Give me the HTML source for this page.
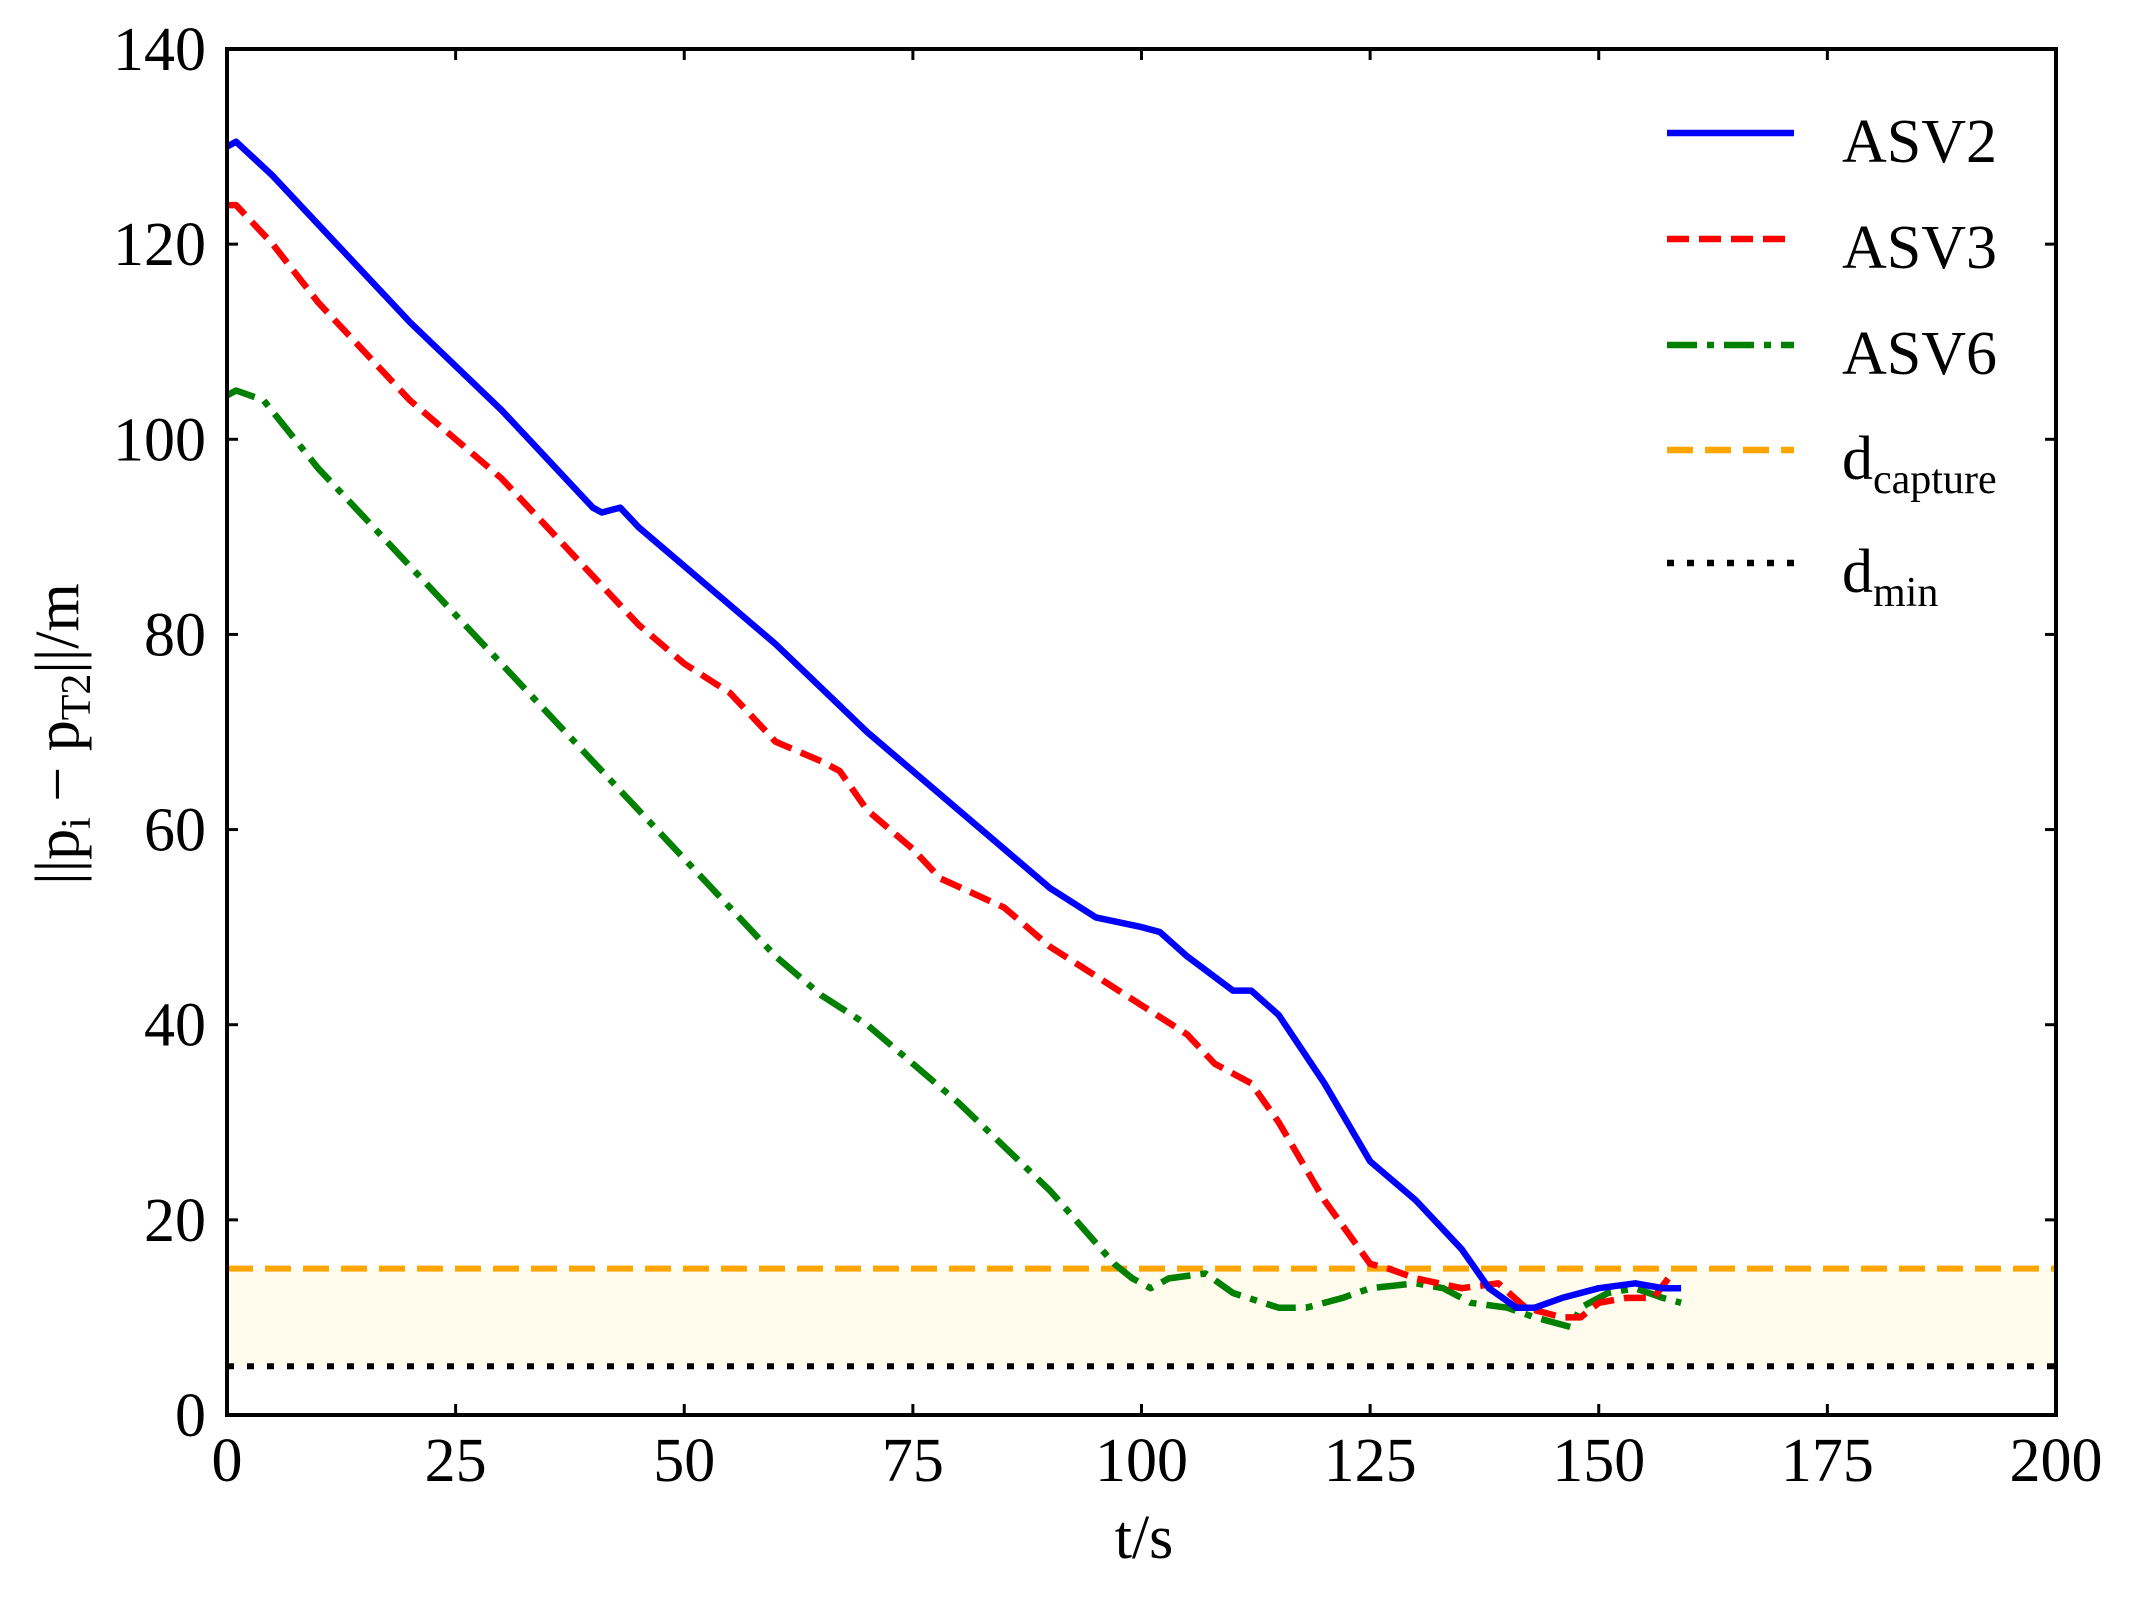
<!DOCTYPE html>
<html><head><meta charset="utf-8"><style>
html,body{margin:0;padding:0;background:#fff;}
svg{display:block;font-family:"Liberation Serif",serif;}
</style></head><body>
<svg id="s" width="2131" height="1597" xmlns="http://www.w3.org/2000/svg">
<g id="g"></g>
<g font-size="62" fill="#000">
<text x="1842" y="162">ASV2</text>
<text x="1842" y="268">ASV3</text>
<text x="1842" y="374">ASV6</text>
<text x="1842" y="479">d<tspan font-size="42" dy="14">capture</tspan></text>
<text x="1842" y="592">d<tspan font-size="42" dy="14">min</tspan></text>
<text x="1144" y="1558" text-anchor="middle" font-size="62">t/s</text>
<text transform="translate(78,734) rotate(-90)" text-anchor="middle" font-size="62">||p<tspan font-size="42" dy="12">i</tspan><tspan dy="-12"> − p</tspan><tspan font-size="42" dy="12">T2</tspan><tspan dy="-12">||/m</tspan></text>
</g>
</svg>
<script>
const X0=227,X1=2056,Y0=1415,Y1=49;
const fx=x=>X0+x*(X1-X0)/200, fy=y=>Y0-y*(Y0-Y1)/140;
const g=document.getElementById('g');let h='';
h+=`<rect x="${X0}" y="${fy(15)}" width="${X1-X0}" height="${fy(5)-fy(15)}" fill="#fffcee"/>`;
const P=a=>a.map((p,i)=>(i?'L':'M')+fx(p[0]).toFixed(1)+','+fy(p[1]).toFixed(1)).join('');
const a2=[[0,130],[1,130.5],[5,127],[10,122],[20,112],[30,103],[40,93],[41,92.5],[43,93],[45,91],[50,87],[60,79],[70,70],[80,62],[90,54],[95,51],[100,50],[102,49.5],[105,47],[110,43.5],[112,43.5],[115,41],[120,34],[125,26],[130,22],[135,17],[138,13],[141,11],[143,11],[146,12],[150,13],[154,13.5],[157,13],[159,13]];
const a3=[[0,124],[1,124],[5,120],[10,114],[20,104],[30,96],[40,86],[45,81],[50,77],[55,74],[60,69],[65,67],[67,66],[70,62],[75,58],[78,55],[85,52],[90,48],[100,42],[105,39],[108,36],[112,34],[115,30],[120,22],[125,15.5],[127,15],[130,14],[135,13],[139,13.5],[142,11],[146,10],[148,10],[150,11.5],[153,12],[156,12],[158,14.5]];
const a6=[[0,104.5],[1,105],[4,104],[10,97],[15,92],[20,87],[30,77],[40,67],[50,57],[60,47],[65,43],[70,40],[80,32],[90,23],[97,15.5],[99,14],[101,13],[103,14],[107,14.5],[110,12.5],[115,11],[118,11],[122,12],[125,13],[130,13.5],[133,13],[136,11.5],[140,11],[143,10],[147,9],[148,11],[151,12.5],[154,13],[157,12],[159,11.5]];
h+=`<line x1="${X0}" x2="${X1}" y1="${fy(15)}" y2="${fy(15)}" stroke="#ffa500" stroke-width="6" stroke-dasharray="26,12"/>`;
h+=`<line x1="${X0}" x2="${X1}" y1="${fy(5)}" y2="${fy(5)}" stroke="#000" stroke-width="6" stroke-dasharray="7,13"/>`;
h+=`<path d="${P(a6)}" fill="none" stroke="#008000" stroke-width="6.5" stroke-linejoin="round" stroke-dasharray="30,10,7,10"/>`;
h+=`<path d="${P(a3)}" fill="none" stroke="#ff0000" stroke-width="6.5" stroke-linejoin="round" stroke-dasharray="22,10"/>`;
h+=`<path d="${P(a2)}" fill="none" stroke="#0000ff" stroke-width="6.5" stroke-linejoin="round"/>`;
const L=[[133,'#0000ff',''],[239,'#ff0000','22,10'],[345,'#008000','30,10,7,10'],[450,'#ffa500','26,12'],[563,'#000','7,13']];
L.forEach(l=>h+=`<line x1="1667" x2="1794" y1="${l[0]}" y2="${l[0]}" stroke="${l[1]}" stroke-width="6.5" stroke-dasharray="${l[2]}"/>`);
h+=`<rect x="${X0}" y="${Y1}" width="${X1-X0}" height="${Y0-Y1}" fill="none" stroke="#000" stroke-width="4"/>`;
for(let v=0;v<=200;v+=25){const x=fx(v);h+=`<line x1="${x}" x2="${x}" y1="${Y0}" y2="${Y0-11}" stroke="#000" stroke-width="3"/><line x1="${x}" x2="${x}" y1="${Y1}" y2="${Y1+11}" stroke="#000" stroke-width="3"/><text x="${x}" y="1481" text-anchor="middle" font-size="62">${v}</text>`;}
for(let v=0;v<=140;v+=20){const y=fy(v);h+=`<line x1="${X0}" x2="${X0+11}" y1="${y}" y2="${y}" stroke="#000" stroke-width="3"/><line x1="${X1}" x2="${X1-11}" y1="${y}" y2="${y}" stroke="#000" stroke-width="3"/><text x="206" y="${y+21}" text-anchor="end" font-size="62">${v}</text>`;}
g.innerHTML=h;
</script>
</body></html>
